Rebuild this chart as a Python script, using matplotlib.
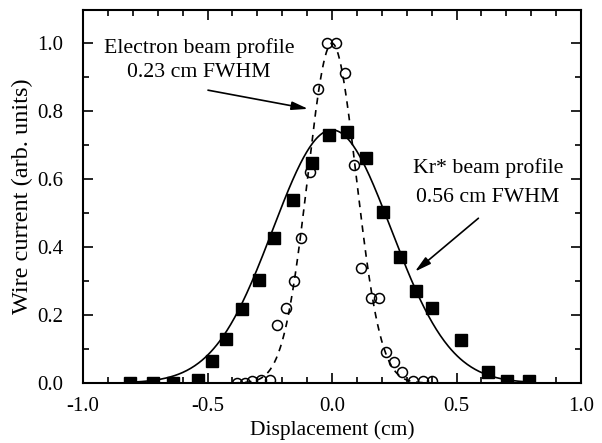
import numpy as np
import matplotlib
matplotlib.use("Agg")
import matplotlib.pyplot as plt
from matplotlib.ticker import MultipleLocator, FormatStrFormatter

# Kr* beam profile (filled squares)
kr_x = [-0.81, -0.72, -0.64, -0.54, -0.483, -0.424, -0.36, -0.293, -0.232, -0.155,
        -0.082, -0.011, 0.059, 0.135, 0.204, 0.273, 0.337, 0.402, 0.519, 0.625, 0.704, 0.791]
kr_y = [0.0, 0.0, 0.0, 0.01, 0.066, 0.129, 0.219, 0.303, 0.426, 0.539,
        0.647, 0.73, 0.74, 0.663, 0.502, 0.372, 0.271, 0.22, 0.127, 0.031, 0.006, 0.005]

# Electron beam profile (open circles)
el_x = [-0.38, -0.35, -0.32, -0.285, -0.25, -0.221, -0.186, -0.151, -0.126, -0.088,
        -0.057, -0.021, 0.016, 0.052, 0.088, 0.118, 0.155, 0.19, 0.217, 0.249,
        0.283, 0.327, 0.367, 0.40]
el_y = [0.0, 0.0, 0.005, 0.01, 0.01, 0.171, 0.222, 0.301, 0.426, 0.622,
        0.864, 1.0, 1.0, 0.913, 0.642, 0.338, 0.249, 0.249, 0.092, 0.061,
        0.031, 0.007, 0.005, 0.005]

# Gaussian fit parameters (amplitude, centre, FWHM in cm)
kr_fit = dict(amp=0.745, center=0.0, fwhm=0.56)
el_fit = dict(amp=1.0, center=0.0, fwhm=0.23)

plt.rcParams['font.family'] = ['Liberation Serif', 'DejaVu Serif']

fig = plt.figure(figsize=(6.02, 4.43), dpi=100)
ax = fig.add_axes([83/602, 1 - 383/443, (581-83)/602, (383-10)/443])


def gauss(x, amp, center, fwhm):
    s = fwhm / (2 * np.sqrt(2 * np.log(2)))
    return amp * np.exp(-(x - center) ** 2 / (2 * s ** 2))

xs = np.linspace(-0.8, 0.8, 400)
ax.plot(xs, gauss(xs, **kr_fit), color='black', lw=1.2, zorder=2)
xe = np.linspace(-0.4, 0.4, 300)
ax.plot(xe, gauss(xe, **el_fit), color='black', lw=1.2, ls=(0, (4, 3.5)), zorder=2)

ax.plot(kr_x, kr_y, 's', color='black', ms=8.5, zorder=3)
ax.plot(el_x, el_y, 'o', mfc='none', mec='black', mew=1.1, ms=7.2, zorder=3)

ax.set_xlim(-1.0, 1.0)
ax.set_ylim(0.0, 1.098)
ax.xaxis.set_major_locator(MultipleLocator(0.5))
ax.xaxis.set_minor_locator(MultipleLocator(0.1))
ax.yaxis.set_major_locator(MultipleLocator(0.2))
ax.yaxis.set_minor_locator(MultipleLocator(0.1))
ax.xaxis.set_major_formatter(FormatStrFormatter('%.1f'))
ax.yaxis.set_major_formatter(FormatStrFormatter('%.1f'))
ax.tick_params(which='both', direction='in', top=True, right=True, width=1.2,
               labelsize=15)
ax.tick_params(which='major', length=7)
ax.tick_params(axis='x', which='major', pad=10)
ax.tick_params(axis='y', which='major', pad=14)
ax.tick_params(which='minor', length=4)
for sp in ax.spines.values():
    sp.set_linewidth(1.5)

ax.set_xlabel('Displacement (cm)', fontsize=15.5, labelpad=3)
ax.set_ylabel('Wire current (arb. units)', fontsize=17.5, labelpad=3)

arrow_style = dict(arrowstyle='-|>,head_length=0.7,head_width=0.18',
                   color='black', lw=1.2, mutation_scale=14, shrinkA=0, shrinkB=0)

ax.text(-0.534, 0.986, 'Electron beam profile', ha='center', va='center', fontsize=15.7)
ax.text(-0.534, 0.913, '0.23 cm FWHM', ha='center', va='center', fontsize=15.7)
ax.annotate('', xy=(-0.096, 0.807), xytext=(-0.498, 0.862), arrowprops=arrow_style)

ax.text(0.627, 0.633, 'Kr* beam profile', ha='center', va='center', fontsize=15.7)
ax.text(0.627, 0.545, '0.56 cm FWHM', ha='center', va='center', fontsize=15.7)
ax.annotate('', xy=(0.333, 0.328), xytext=(0.588, 0.485), arrowprops=arrow_style)

fig.savefig('out.png', dpi=100)
